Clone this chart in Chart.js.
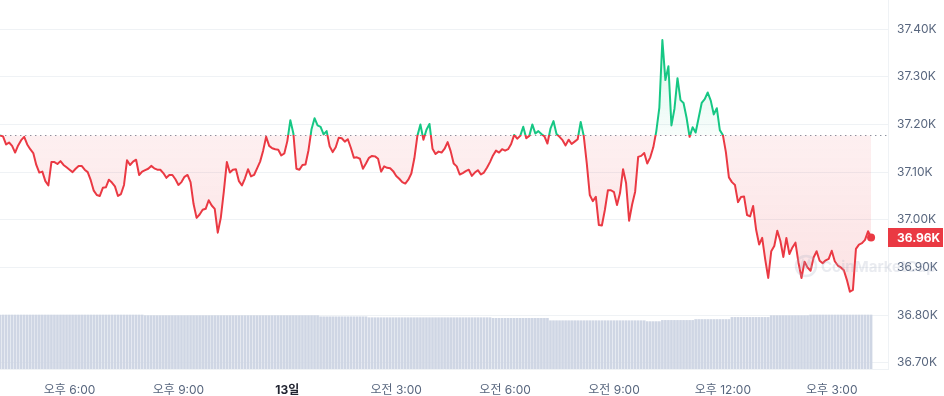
<!DOCTYPE html>
<html>
<head>
<meta charset="utf-8">
<script src="https://cdn.jsdelivr.net/npm/chart.js@4.4.0/dist/chart.umd.min.js"></script>
<style>
  html, body { margin: 0; padding: 0; background: #fff; }
  #wrap { width: 944px; height: 396px; }
</style>
</head>
<body>
<div id="wrap"><canvas id="chart-price"></canvas></div>
<script>
// 5-minute samples, 16:05 -> 16:05 next day
const STEP_MIN = 5;

const prices = [
  37177, 37175, 37158, 37162, 37155, 37141, 37156, 37167, 37174, 37158, 37148, 37140,
  37115, 37099, 37101, 37081, 37072, 37121, 37121, 37117, 37123, 37115, 37110, 37105,
  37100, 37107, 37113, 37113, 37105, 37100, 37083, 37061, 37052, 37050, 37067, 37068,
  37084, 37078, 37070, 37050, 37054, 37073, 37125, 37115, 37122, 37126, 37094, 37101,
  37104, 37107, 37113, 37108, 37105, 37105, 37098, 37088, 37094, 37094, 37085, 37073,
  37079, 37090, 37094, 37079, 37033, 37004, 37011, 37021, 37023, 37041, 37030, 37023,
  36973, 37004, 37059, 37121, 37099, 37105, 37106, 37081, 37072, 37087, 37106, 37091,
  37094, 37108, 37122, 37145, 37174, 37155, 37150, 37148, 37147, 37135, 37139, 37165,
  37209, 37181, 37107, 37105, 37115, 37116, 37146, 37190, 37213, 37198, 37195, 37179,
  37186, 37154, 37142, 37152, 37172, 37171, 37164, 37169, 37151, 37130, 37131, 37128,
  37107, 37118, 37130, 37134, 37133, 37128, 37101, 37112, 37109, 37108, 37102, 37092,
  37086, 37079, 37076, 37084, 37097, 37129, 37176, 37200, 37168, 37189, 37201, 37149,
  37138, 37143, 37141, 37149, 37163, 37144, 37118, 37112, 37095, 37098, 37102, 37105,
  37092, 37099, 37104, 37095, 37099, 37109, 37121, 37135, 37145, 37141, 37148, 37145,
  37148, 37159, 37178, 37170, 37176, 37195, 37171, 37176, 37200, 37181, 37186, 37180,
  37175, 37160, 37191, 37207, 37180, 37174, 37167, 37156, 37168, 37159, 37164, 37169,
  37205, 37176, 37119, 37052, 37039, 37048, 36989, 36988, 37021, 37062, 37062, 37058,
  37031, 37056, 37106, 37077, 36998, 37032, 37059, 37132, 37134, 37140, 37118, 37131,
  37152, 37186, 37235, 37377, 37293, 37322, 37198, 37233, 37297, 37251, 37245, 37214,
  37174, 37194, 37183, 37214, 37245, 37253, 37267, 37250, 37221, 37234, 37188, 37178,
  37142, 37089, 37079, 37073, 37037, 37048, 37049, 37010, 37007, 37029, 36979, 36948,
  36962, 36917, 36878, 36934, 36945, 36977, 36956, 36922, 36962, 36928, 36942, 36952,
  36910, 36878, 36912, 36900, 36893, 36921, 36934, 36914, 36909, 36915, 36918, 36935,
  36913, 36904, 36900, 36894, 36874, 36849, 36853, 36939, 36948, 36951, 36958, 36976,
  36963
];

// rolling 24h volume (billions), one bar per sample
const volumes = [
  18.0, 18.0, 18.0, 18.0, 18.0, 18.0, 18.0, 18.0, 18.0, 18.0, 18.0, 18.0,
  18.0, 18.0, 18.0, 18.0, 18.0, 18.0, 18.0, 18.0, 18.0, 18.0, 18.0, 18.0,
  18.0, 18.0, 18.0, 18.0, 18.0, 18.0, 18.0, 18.0, 18.0, 18.0, 18.0, 18.0,
  18.0, 18.0, 18.0, 18.0, 18.0, 18.0, 18.0, 18.0, 18.0, 18.0, 18.0, 18.0,
  17.8, 17.8, 17.8, 17.8, 17.8, 17.8, 17.8, 17.8, 17.8, 17.8, 17.8, 17.8,
  17.8, 17.8, 17.8, 17.8, 17.8, 17.8, 17.8, 17.8, 17.8, 17.8, 17.8, 17.8,
  17.8, 17.8, 17.8, 17.8, 17.8, 17.8, 17.8, 17.8, 17.8, 17.8, 17.8, 17.8,
  17.8, 17.8, 17.8, 17.8, 17.8, 17.8, 17.8, 17.8, 17.8, 17.8, 17.8, 17.8,
  17.8, 17.8, 17.8, 17.8, 17.8, 17.8, 17.8, 17.8, 17.8, 17.8,
  17.4, 17.4, 17.4, 17.4, 17.4, 17.4, 17.4, 17.4, 17.4, 17.4, 17.4, 17.4,
  17.4, 17.4, 17.4, 17.4,
  17.1, 17.1, 17.1, 17.1, 17.1, 17.1, 17.1, 17.1, 17.1, 17.1, 17.1, 17.1,
  17.1, 17.1, 17.1, 17.1, 17.1, 17.1, 17.1, 17.1, 17.1, 17.1, 17.1, 17.1,
  17.1, 17.1, 17.1, 17.1, 17.1, 17.1, 17.1, 17.1, 17.1, 17.1, 17.1, 17.1,
  17.1, 17.1, 17.1, 17.1, 17.1,
  16.9, 16.9, 16.9, 16.9, 16.9, 16.9, 16.9, 16.9, 16.9, 16.9, 16.9, 16.9,
  16.9, 16.9, 16.9, 16.9, 16.9, 16.9, 16.9,
  16.1, 16.1, 16.1, 16.1, 16.1, 16.1, 16.1, 16.1, 16.1, 16.1, 16.1, 16.1,
  16.1, 16.1, 16.1, 16.1, 16.1, 16.1, 16.1, 16.1, 16.1, 16.1, 16.1, 16.1,
  16.1, 16.1, 16.1, 16.1, 16.1, 16.1, 16.1, 16.1,
  15.8, 15.8, 15.8, 15.8, 15.8,
  16.2, 16.2, 16.2, 16.2, 16.2, 16.2, 16.2, 16.2, 16.2, 16.2, 16.2,
  16.5, 16.5, 16.5, 16.5, 16.5, 16.5, 16.5, 16.5, 16.5, 16.5, 16.5, 16.5,
  17.2, 17.2, 17.2, 17.2, 17.2, 17.2, 17.2, 17.2, 17.2, 17.2, 17.2, 17.2,
  17.2,
  17.8, 17.8, 17.8, 17.8, 17.8, 17.8, 17.8, 17.8, 17.8, 17.8, 17.8, 17.8,
  17.8,
  18.0, 18.0, 18.0, 18.0, 18.0, 18.0, 18.0, 18.0, 18.0, 18.0, 18.0, 18.0,
  18.0, 18.0, 18.0, 18.0, 18.0, 18.0, 18.0, 18.0, 18.0
];

const xTickMinutes = [115, 295, 475, 655, 835, 1015, 1195, 1375];
const xTickLabels = ["오후 6:00", "오후 9:00", "13일", "오전 3:00", "오전 6:00", "오전 9:00", "오후 12:00", "오후 3:00"];
const yTickValues = [36700, 36800, 36900, 37000, 37100, 37200, 37300, 37400];

const BASELINE = prices[0];
const UP = "#16c784";
const DOWN = "#ea3943";
const TEXT = "#58667e";
const GRID = "#eff2f5";

Chart.defaults.font.family = 'Inter, "Noto Sans CJK KR", sans-serif';

function baselineFrac(chart) {
  const { chartArea, scales } = chart;
  const y0 = scales.y.getPixelForValue(BASELINE);
  return Math.min(1, Math.max(0, (y0 - chartArea.top) / (chartArea.bottom - chartArea.top)));
}

function lineColor(ctx) {
  const chart = ctx.chart;
  if (!chart.chartArea) return DOWN;
  const { top, bottom } = chart.chartArea;
  const f = baselineFrac(chart);
  const g = chart.ctx.createLinearGradient(0, top, 0, bottom);
  g.addColorStop(0, UP);
  g.addColorStop(f, UP);
  g.addColorStop(f, DOWN);
  g.addColorStop(1, DOWN);
  return g;
}

function areaColor(ctx) {
  const chart = ctx.chart;
  if (!chart.chartArea) return "rgba(234,57,67,0.1)";
  const { top, bottom } = chart.chartArea;
  const f = baselineFrac(chart);
  const g = chart.ctx.createLinearGradient(0, top, 0, bottom);
  g.addColorStop(0, "rgba(22,199,132,0.22)");
  g.addColorStop(f, "rgba(22,199,132,0.03)");
  g.addColorStop(f, "rgba(234,57,67,0.08)");
  g.addColorStop(Math.min(1, f + 0.45), "rgba(234,57,67,0.15)");
  g.addColorStop(1, "rgba(234,57,67,0.0)");
  return g;
}

const priceOverlay = {
  id: "priceOverlay",
  beforeDatasetsDraw(chart) {
    const { ctx, chartArea, scales } = chart;
    const y = Math.round(scales.y.getPixelForValue(BASELINE)) + 0.5;
    ctx.save();
    ctx.strokeStyle = "#8a919e";
    ctx.lineWidth = 1.2;
    ctx.setLineDash([1.4, 3.6]);
    ctx.beginPath();
    ctx.moveTo(chartArea.left, y);
    ctx.lineTo(chartArea.right, y);
    ctx.stroke();
    ctx.restore();
  },
  afterDraw(chart) {
    const { ctx, chartArea, scales } = chart;
    const last = prices[prices.length - 1];
    const y = scales.y.getPixelForValue(last);
    ctx.save();
    // watermark
    ctx.globalAlpha = 0.25;
    ctx.strokeStyle = "#a6b0c3";
    ctx.fillStyle = "#a6b0c3";
    ctx.lineWidth = 2.5;
    ctx.beginPath();
    ctx.arc(806, 266, 10, 0, Math.PI * 2);
    ctx.stroke();
    ctx.beginPath();
    ctx.moveTo(800, 270);
    ctx.lineTo(803, 261);
    ctx.lineTo(806, 268);
    ctx.lineTo(809, 261);
    ctx.lineTo(812, 269);
    ctx.stroke();
    ctx.font = "bold 15px Inter, sans-serif";
    ctx.textBaseline = "middle";
    ctx.textAlign = "left";
    ctx.fillText("CoinMarketCap", 821, 267);
    ctx.globalAlpha = 1;
    // current price tag
    ctx.fillStyle = DOWN;
    ctx.fillRect(chartArea.right, Math.round(y - 9.5), 944 - chartArea.right - 1, 19);
    ctx.fillStyle = "#fff";
    ctx.font = "bold 12px Inter, sans-serif";
    ctx.fillText((last / 1000).toFixed(2) + "K", chartArea.right + 9, y + 0.5);
    ctx.restore();
  }
};

new Chart(document.getElementById("chart-price"), {
  type: "line",
  data: {
    datasets: [
      {
        type: "line",
        data: prices.map((p, i) => ({ x: i * STEP_MIN, y: p })),
        yAxisID: "y",
        order: 0,
        borderColor: lineColor,
        backgroundColor: areaColor,
        borderWidth: 2,
        borderJoinStyle: "round",
        tension: 0,
        fill: { value: BASELINE },
        pointRadius: (ctx) => (ctx.dataIndex === prices.length - 1 ? 4 : 0),
        pointBackgroundColor: DOWN,
        pointBorderWidth: 0,
        clip: false,
      },
      {
        type: "bar",
        data: volumes.map((v, i) => ({ x: i * STEP_MIN, y: v })),
        yAxisID: "yv",
        order: 1,
        backgroundColor: "#cfd6e4",
        barThickness: 2,
      },
    ],
  },
  options: {
    responsive: true,
    maintainAspectRatio: false,
    animation: false,
    layout: { padding: 0, autoPadding: false },
    scales: {
      x: {
        type: "linear",
        min: 0,
        max: 1468,
        offset: false,
        grid: { display: false, offset: false },
        border: { display: true, color: GRID },
        afterBuildTicks: (s) => { s.ticks = xTickMinutes.map((v) => ({ value: v })); },
        afterFit: (s) => { s.height = 27; s.paddingLeft = 0; s.paddingRight = 0; },
        ticks: {
          autoSkip: false,
          maxRotation: 0,
          padding: 6,
          callback: (v, i) => xTickLabels[i],
          color: (c) => (xTickLabels[c.index] === "13일" ? "#222531" : TEXT),
          font: (c) => ({ size: 12, weight: xTickLabels[c.index] === "13일" ? "bold" : "normal" }),
        },
      },
      y: {
        position: "right",
        min: 36687,
        max: 37461,
        afterBuildTicks: (s) => { s.ticks = yTickValues.map((v) => ({ value: v })); },
        afterFit: (s) => { s.width = 56; s.paddingTop = 0; s.paddingBottom = 0; },
        grid: { color: GRID, drawTicks: false },
        border: { display: true, color: GRID },
        ticks: {
          padding: 9,
          color: TEXT,
          font: { size: 12 },
          callback: (v) => (v / 1000).toFixed(2) + "K",
        },
      },
      yv: { display: false, min: 0, max: 123 },
    },
    plugins: {
      legend: { display: false },
      tooltip: { enabled: false },
    },
  },
  plugins: [priceOverlay],
});
</script>
</body>
</html>
